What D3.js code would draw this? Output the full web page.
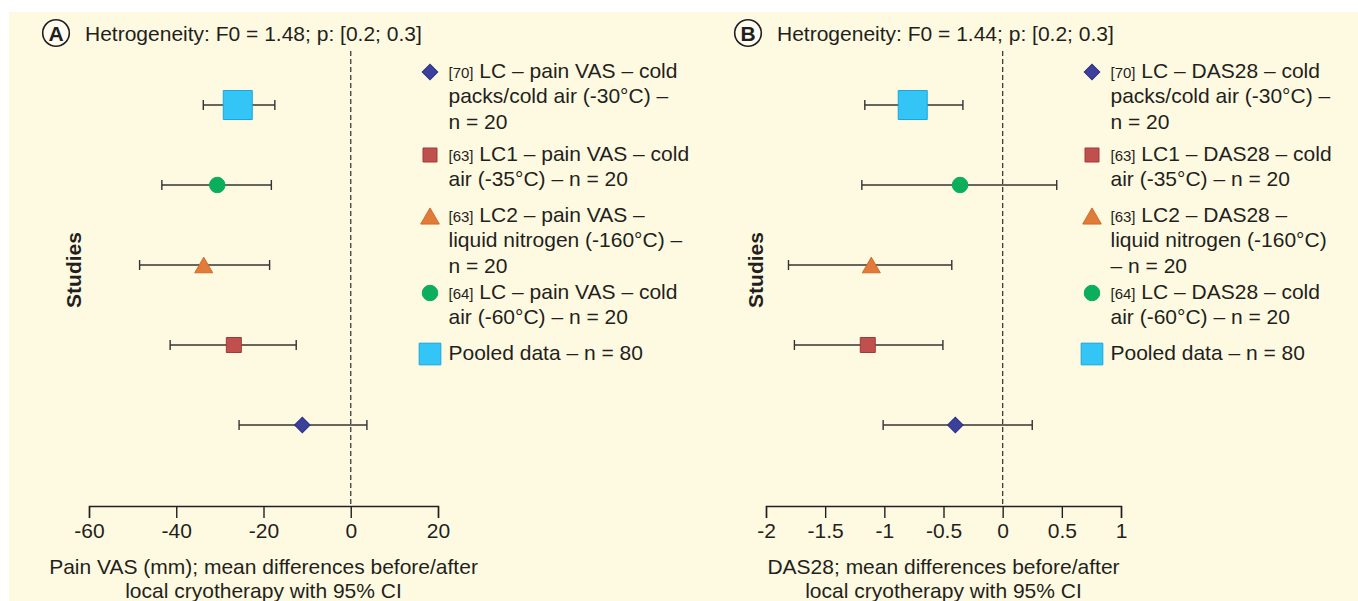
<!DOCTYPE html>
<html>
<head>
<meta charset="utf-8">
<script src="https://cdn.jsdelivr.net/npm/d3@7"></script>
<style>
  body { margin: 0; background: #fff; }
  svg { display: block; font-family: 'Liberation Sans', Arial, sans-serif; }
  .axis text { font-size: 21px; fill: #231f20; }
</style>
</head>
<body>
<div id="chart"></div>
<script>
// studies from top row to bottom row
const studies = ['pooled', 'ref64', 'ref63b', 'ref63a', 'ref70']
const studyShape = ['bigSquare', 'circle', 'triangle', 'square', 'diamond']

// panel A - pain VAS (mm)
const vasMean = [-25.9, -30.6, -33.7, -26.8, -11.1]
const vasLow = [-33.8, -43.3, -48.4, -41.4, -25.6]
const vasHigh = [-17.4, -18.2, -18.6, -12.5, 3.7]
const vasTicks = [-60, -40, -20, 0, 20]

// panel B - DAS28
const dasMean = [-0.76, -0.36, -1.11, -1.14, -0.40]
const dasLow = [-1.165, -1.19, -1.81, -1.76, -1.01]
const dasHigh = [-0.336, 0.457, -0.43, -0.505, 0.25]
const dasTicks = [-2, -1.5, -1, -0.5, 0, 0.5, 1]

// legend (order as in figure)
const legendShape = ['diamond', 'square', 'triangle', 'circle', 'bigSquare']
const legendRefs = ['[70]', '[63]', '[63]', '[64]', '']
const vasLegend = [
  [' LC – pain VAS – cold', 'packs/cold air (-30°C) –', 'n = 20'],
  [' LC1 – pain VAS – cold', 'air (-35°C) – n = 20'],
  [' LC2 – pain VAS –', 'liquid nitrogen (-160°C) –', 'n = 20'],
  [' LC – pain VAS – cold', 'air (-60°C) – n = 20'],
  ['Pooled data – n = 80']
]
const dasLegend = [
  [' LC – DAS28 – cold', 'packs/cold air (-30°C) –', 'n = 20'],
  [' LC1 – DAS28 – cold', 'air (-35°C) – n = 20'],
  [' LC2 – DAS28 –', 'liquid nitrogen (-160°C)', '– n = 20'],
  [' LC – DAS28 – cold', 'air (-60°C) – n = 20'],
  ['Pooled data – n = 80']
]
const legendTop = [70, 153, 214, 291, 352]

const shapes = {
  diamond: { type: d3.symbolSquare, size: 121, rotate: 45, fill: '#3b409c', stroke: '#2c3180' },
  square: { type: d3.symbolSquare, size: 225, rotate: 0, fill: '#c0504d', stroke: '#9e3b39' },
  triangle: { type: d3.symbolTriangle, size: 140, rotate: 0, fill: '#e07b39', stroke: '#d06a2a' },
  circle: { type: d3.symbolCircle, size: 189, rotate: 0, fill: '#0aae5c', stroke: '#0aae5c' },
  bigSquare: { type: d3.symbolSquare, size: 841, rotate: 0, fill: '#33c5f5', stroke: '#1aa6dc' }
}
const legendSize = { diamond: 121, square: 196, triangle: 150, circle: 189, bigSquare: 470 }

const svg = d3.select('#chart').append('svg')
  .attr('width', 1358).attr('height', 601)

svg.append('rect')
  .attr('x', 9).attr('y', 12).attr('width', 1349).attr('height', 589)
  .attr('fill', '#fefae1')

function drawMarker(g, name, x, y, size) {
  const s = shapes[name]
  const sz = size || s.size
  // d3 triangles sit on the centroid, nudge to box centre
  let dy = 0
  if (name === 'triangle') dy = Math.sqrt(sz * 4 / Math.sqrt(3)) * Math.sqrt(3) / 12
  g.append('path')
    .attr('d', d3.symbol().type(s.type).size(sz)())
    .attr('transform', `translate(${x}, ${y + dy}) rotate(${s.rotate})`)
    .attr('fill', s.fill)
    .attr('stroke', s.stroke)
    .attr('stroke-width', 1)
}

function drawPanel(opt) {
  const g = svg.append('g')

  const x = d3.scaleLinear().domain(opt.domain).range(opt.range)
  const y = d3.scalePoint().domain(studies).range([105, 425])

  // header
  g.append('circle').attr('cx', opt.badgeX).attr('cy', 33).attr('r', 13.3)
    .attr('fill', '#fffdf0').attr('stroke', '#231f20').attr('stroke-width', 1.6)
  g.append('text').attr('x', opt.badgeX).attr('y', 40.5)
    .attr('text-anchor', 'middle').attr('font-size', 21).attr('font-weight', 'bold')
    .attr('fill', '#231f20').text(opt.badge)
  g.append('text').attr('x', opt.badgeX + 29).attr('y', 40.5)
    .attr('font-size', 21).attr('fill', '#231f20').text(opt.title)

  // y label
  g.append('text')
    .attr('transform', `translate(${opt.studiesX}, 270) rotate(-90)`)
    .attr('text-anchor', 'middle').attr('dy', '0.35em')
    .attr('font-size', 21).attr('font-weight', 'bold').attr('fill', '#231f20')
    .text('Studies')

  // zero line
  g.append('line')
    .attr('x1', x(0)).attr('x2', x(0)).attr('y1', 51).attr('y2', 506)
    .attr('stroke', '#3a3a3a').attr('stroke-width', 1.3)
    .attr('stroke-dasharray', '5,3')

  // axis
  const axis = d3.axisBottom(x).tickValues(opt.ticks).tickSize(12).tickPadding(5)
  const ax = g.append('g').attr('class', 'axis')
    .attr('transform', 'translate(0, 506)')
    .call(axis)
  ax.select('.domain').attr('stroke', '#231f20').attr('stroke-width', 1.4)
  ax.selectAll('.tick line').attr('stroke', '#231f20').attr('stroke-width', 1.4)
  ax.selectAll('.tick text').text(d => String(d))

  const mid = (opt.range[0] + opt.range[1]) / 2
  g.append('text').attr('x', mid).attr('y', 573.5)
    .attr('text-anchor', 'middle').attr('font-size', 21).attr('fill', '#231f20')
    .text(opt.xlabel)
  g.append('text').attr('x', mid).attr('y', 598)
    .attr('text-anchor', 'middle').attr('font-size', 21).attr('fill', '#231f20')
    .text('local cryotherapy with 95% CI')

  // CI bars
  const rows = studies.map((s, i) => ({
    study: s, shape: studyShape[i], mean: opt.mean[i], low: opt.low[i], high: opt.high[i]
  }))
  const ci = g.append('g').selectAll('g').data(rows).join('g')
    .attr('stroke', '#333').attr('stroke-width', 1.4)
  ci.append('line')
    .attr('x1', d => x(d.low)).attr('x2', d => x(d.high))
    .attr('y1', d => y(d.study)).attr('y2', d => y(d.study))
  ci.append('line')
    .attr('x1', d => x(d.low)).attr('x2', d => x(d.low))
    .attr('y1', d => y(d.study) - 5).attr('y2', d => y(d.study) + 5)
  ci.append('line')
    .attr('x1', d => x(d.high)).attr('x2', d => x(d.high))
    .attr('y1', d => y(d.study) - 5).attr('y2', d => y(d.study) + 5)

  rows.forEach(d => drawMarker(g, d.shape, x(d.mean), y(d.study)))

  // legend
  const lg = g.append('g')
  opt.legend.forEach((lines, i) => {
    const top = legendTop[i]
    drawMarker(lg, legendShape[i], opt.legendX, top + 2, legendSize[legendShape[i]])
    lines.forEach((line, j) => {
      const t = lg.append('text')
        .attr('x', opt.legendX + 18.5).attr('y', top + j * 25.5 + 7.5)
        .attr('font-size', 21).attr('fill', '#231f20')
      if (j === 0 && legendRefs[i]) {
        t.append('tspan').attr('font-size', 15).text(legendRefs[i])
      }
      t.append('tspan').text(line)
    })
  })
}

drawPanel({
  badge: 'A', badgeX: 56, title: 'Hetrogeneity: F0 = 1.48; p: [0.2; 0.3]',
  domain: [-60, 20], range: [89, 438], ticks: vasTicks,
  mean: vasMean, low: vasLow, high: vasHigh,
  studiesX: 74, legendX: 430, legend: vasLegend,
  xlabel: 'Pain VAS (mm); mean differences before/after'
})

drawPanel({
  badge: 'B', badgeX: 748, title: 'Hetrogeneity: F0 = 1.44; p: [0.2; 0.3]',
  domain: [-2, 1], range: [766, 1121], ticks: dasTicks,
  mean: dasMean, low: dasLow, high: dasHigh,
  studiesX: 756, legendX: 1092, legend: dasLegend,
  xlabel: 'DAS28; mean differences before/after'
})
</script>
</body>
</html>
